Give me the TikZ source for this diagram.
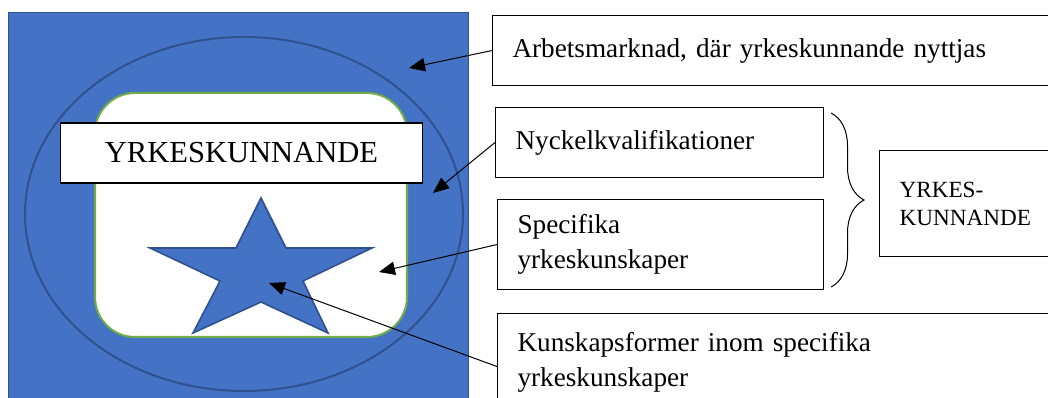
\documentclass[tikz,border=0pt]{standalone}
\usepackage{fontspec}
\setmainfont{Liberation Serif}
\usetikzlibrary{arrows.meta,decorations.pathreplacing}
\definecolor{fieldblue}{HTML}{4472C4}
\definecolor{edgeblue}{HTML}{2F528F}
\definecolor{rimgreen}{HTML}{70AD47}

\begin{document}
\begin{tikzpicture}[x=0.75pt,y=-0.75pt,
  labelbox/.style={draw, line width=0.8pt, fill=white, align=left, anchor=north west,
    inner xsep=15pt, inner ysep=0pt, font=\fontsize{20.4}{26.5}\selectfont},
  pointer/.style={-{Triangle[length=12pt,width=10pt]}, line width=0.75pt}]
  \clip (0,0) rectangle (1048,398);
  \fill[white] (0,0) rectangle (1048,398);
  \draw[fill=fieldblue, draw=edgeblue, line width=0.75pt] (8,13) rectangle (468,420);
  \draw[edgeblue, line width=1.5pt] (244,214) ellipse [x radius=219, y radius=177];
  \draw[fill=white, draw=rimgreen, line width=1.5pt, rounded corners=30pt] (95,93) rectangle (407,337);
  \draw[fill=fieldblue, draw=edgeblue, line width=1.2pt]
    (261,198) -- (286,248) -- (372,248) -- (303,281) -- (328,333) -- (261,302)
    -- (193,333) -- (220,281) -- (150,248) -- (236,248) -- cycle;
  \node[draw, fill=white, line width=0.8pt, minimum width=272pt, minimum height=45pt,
    font=\fontsize{22.9}{27}\selectfont] (yrke) at (241.5,153) {YRKESKUNNANDE};

  \node[labelbox, text width=390pt, minimum height=52.5pt] (market) at (492,15)
    {Arbetsmarknad, där yrkeskunnande nyttjas};
  \node[labelbox, text width=216pt, minimum height=52.5pt] (keyq) at (495,107)
    {Nyckelkvalifikationer};
  \node[labelbox, text width=214.5pt, minimum height=67.5pt] (spec) at (497,199)
    {Specifika\\yrkeskunskaper};
  \node[labelbox, text width=392pt, minimum height=73.5pt] (forms) at (497,313)
    {Kunskapsformer inom specifika\\yrkeskunskaper};
  \node[labelbox, text width=106pt, minimum height=79.5pt,
    font=\fontsize{17.4}{21}\selectfont] (whole) at (879,150) {YRKES-\\KUNNANDE};

  \draw[line width=0.75pt, decorate, decoration={brace, amplitude=24.75pt}]
    (831,113) -- (831,287);

  \coordinate (tipmarket) at (409,68);
  \coordinate (tipkeyq) at (433,193);
  \coordinate (tipspec) at (379,272);
  \coordinate (tipforms) at (269,283);
  \draw[pointer] (market.west) -- (tipmarket);
  \draw[pointer] (keyq.west) -- (tipkeyq);
  \draw[pointer] (spec.west) -- (tipspec);
  \draw[pointer] ([yshift=-3pt]forms.west) -- (tipforms);
\end{tikzpicture}
\end{document}
